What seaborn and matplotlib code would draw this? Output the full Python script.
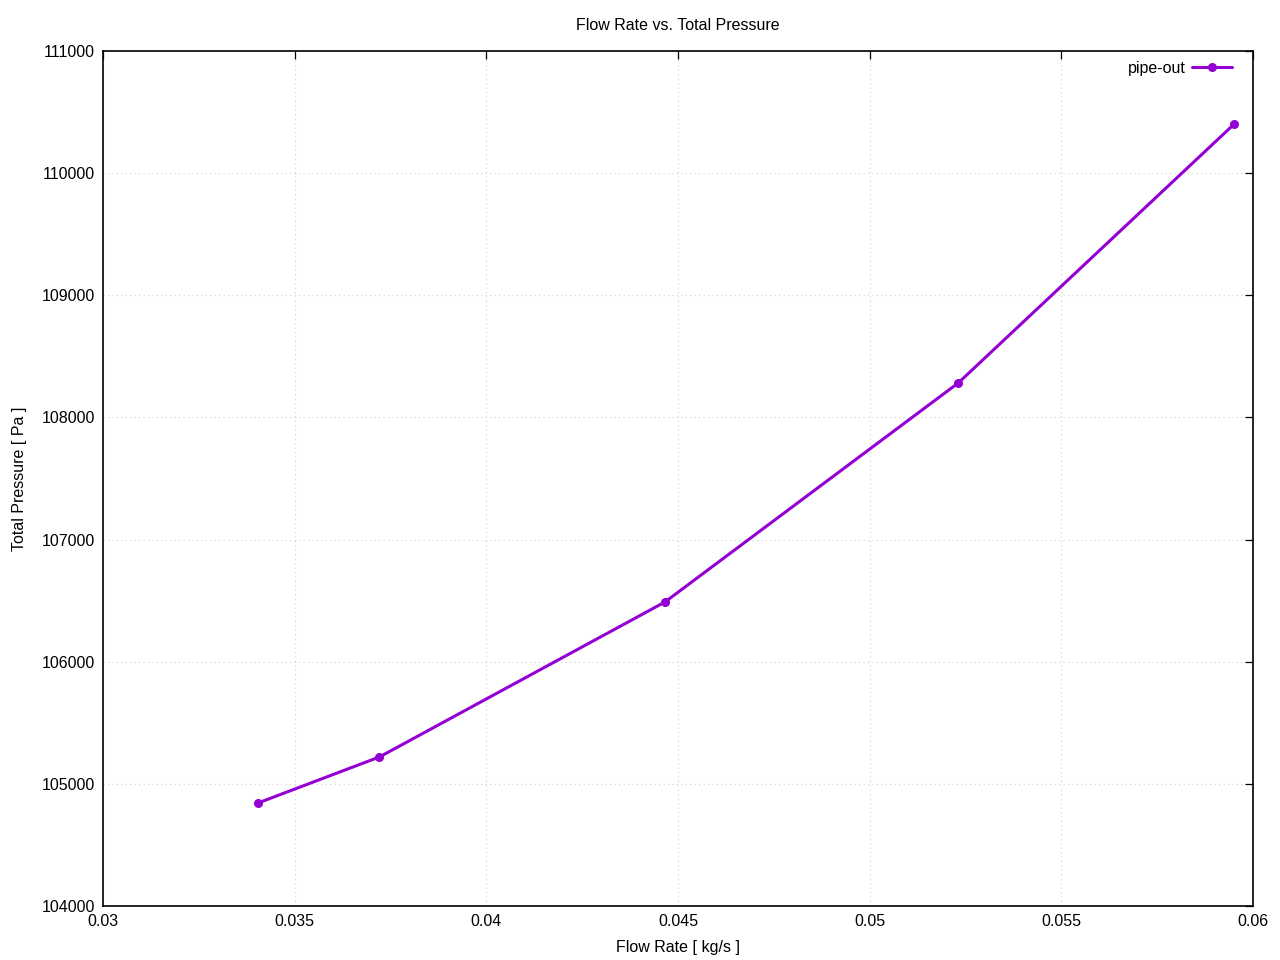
import pandas as pd
import matplotlib
matplotlib.use("Agg")
import matplotlib.pyplot as plt
import seaborn as sns

flow_rate = [0.03404, 0.03721, 0.04466, 0.05231, 0.05951]
total_pressure = [104843, 105220, 106489, 108282, 110402]

df = pd.DataFrame({"flow": flow_rate, "pressure": total_pressure})

sns.set_style("white")
plt.rcParams['font.family'] = ['Liberation Sans', 'DejaVu Sans']
plt.rcParams['text.color'] = 'black'
plt.rcParams['axes.labelcolor'] = 'black'

fig = plt.figure(figsize=(12.8, 9.6), dpi=100)
ax = fig.add_axes([103 / 1280, 1 - 906 / 960, 1150 / 1280, 855 / 960])

sns.lineplot(x='flow', y='pressure', data=df, ax=ax, color='#9400D3',
             linewidth=2.2, marker='o', markersize=6.5, markeredgewidth=0,
             label='pipe-out')

ax.set_xlim(0.03, 0.06)
ax.set_ylim(104000, 111000)
ax.set_xticks([0.03, 0.035, 0.04, 0.045, 0.05, 0.055, 0.06])
ax.set_xticklabels(['0.03', '0.035', '0.04', '0.045', '0.05', '0.055', '0.06'])
ax.set_yticks(range(104000, 111001, 1000))
ax.grid(True, color='#d0d0d0', linestyle=(0, (1, 3)), linewidth=0.8)

for s in ax.spines.values():
    s.set_color('black')
    s.set_linewidth(1.2)
ax.tick_params(direction='in', length=6, width=0.9, top=True, right=True,
               labelsize=11.5, colors='black', pad=6)

ax.set_xlabel('Flow Rate [ kg/s ]', fontsize=11.5, labelpad=8)
ax.set_ylabel('Total Pressure [ Pa ]', fontsize=11.5, labelpad=10)
ax.set_title('Flow Rate vs. Total Pressure', fontsize=11.5, pad=15,
             color='black')

ax.legend(loc='upper right', bbox_to_anchor=(1, 1.013), frameon=False,
          markerfirst=False, fontsize=11.5, handlelength=2.5,
          borderaxespad=0.9, handletextpad=0.4)

fig.savefig('out.png', dpi=100)
